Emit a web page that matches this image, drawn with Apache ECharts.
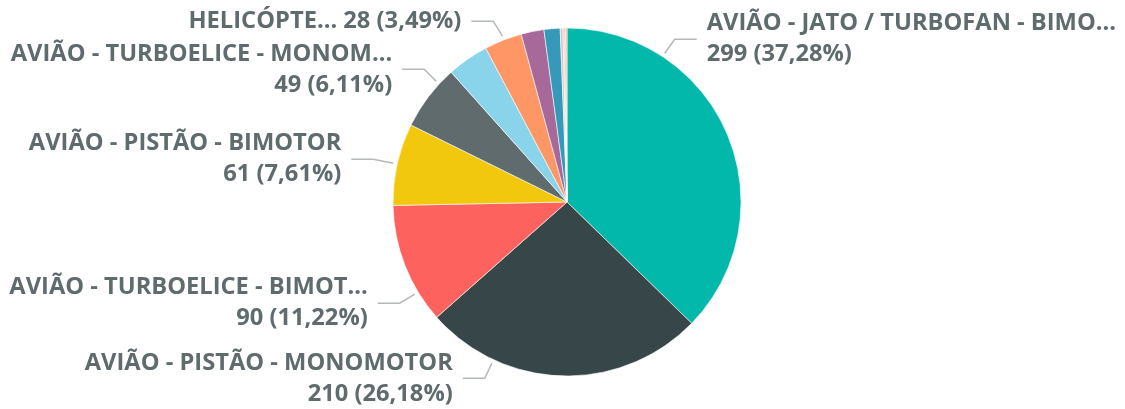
<!DOCTYPE html>
<html>
<head>
<meta charset="utf-8">
<script src="https://cdn.jsdelivr.net/npm/echarts@6/dist/echarts.min.js"></script>
<style>
  html, body { margin: 0; padding: 0; background: #fff; }
  #chart { width: 1125px; height: 409px; }
</style>
</head>
<body>
<div id="chart"></div>
<script>
// categorias (nome completo) e rótulo exibido (truncado como no original)
const categories = [
  'AVIÃO - JATO / TURBOFAN - BIMOTOR',
  'AVIÃO - PISTÃO - MONOMOTOR',
  'AVIÃO - TURBOELICE - BIMOTOR',
  'AVIÃO - PISTÃO - BIMOTOR',
  'AVIÃO - TURBOELICE - MONOMOTOR',
  'AVIÃO - JATO / TURBOFAN - MONOMOTOR',
  'HELICÓPTERO - TURBINA',
  'HELICÓPTERO - PISTÃO',
  'AVIÃO - JATO / TURBOFAN - TRIMOTOR',
  'ANFÍBIO',
  'PLANADOR',
  'ULTRALEVE',
  'BALÃO'
]
const shownNames = [
  'AVIÃO - JATO / TURBOFAN - BIMO...',
  'AVIÃO - PISTÃO - MONOMOTOR',
  'AVIÃO - TURBOELICE - BIMOT...',
  'AVIÃO - PISTÃO - BIMOTOR',
  'AVIÃO - TURBOELICE - MONOM...',
  null,
  'HELICÓPTE...',
  null, null, null, null, null, null
]
const values = [299, 210, 90, 61, 49, 31, 28, 17, 12, 2, 1, 1, 1]

const colors = ['#01B8AA', '#374649', '#FD625E', '#F2C80F', '#5F6B6D', '#8AD4EB',
  '#FE9666', '#A66999', '#3599B8', '#DFBFBF', '#C9C9C9', '#FB8281', '#FDAB89']

// posição dos rótulos (estilo Power BI): ângulo de saída, dobra da linha, lado
const labelSpots = {
  0: { angle: 33.3, bend: [10, -14], side: 1, oneLine: false },
  1: { angle: 205, bend: [-7, 15], side: -1, oneLine: false },
  2: { angle: 238.8, bend: [-15, 9], side: -1, oneLine: false },
  3: { angle: 282.6, bend: [-20, -4], side: -1, oneLine: false },
  4: { angle: 312.7, bend: [-12, -12], side: -1, oneLine: false },
  6: { angle: 338.7, bend: [-9, -15], side: -1, oneLine: true }
}

const cx = 567
const cy = 202
const r = 174
const total = values.reduce((a, b) => a + b, 0)

const chart = echarts.init(document.getElementById('chart'))

chart.setOption({
  animation: false,
  color: colors,
  series: [
    {
      type: 'pie',
      center: [cx, cy],
      radius: r,
      startAngle: 90,
      clockwise: true,
      avoidLabelOverlap: false,
      itemStyle: {
        borderColor: '#fff',
        borderWidth: 0.6
      },
      emphasis: { disabled: true },
      label: {
        show: true,
        position: 'outside',
        color: '#5F6B6D',
        fontFamily: 'Open Sans',
        fontWeight: 'bold',
        fontSize: 23.7,
        lineHeight: 31,
        formatter (p) {
          const pct = (p.value / total * 100).toFixed(2).replace('.', ',')
          const spot = labelSpots[p.dataIndex]
          const sep = spot && spot.oneLine ? ' ' : '\n'
          return shownNames[p.dataIndex] + sep + p.value + ' (' + pct + '%)'
        }
      },
      labelLine: {
        show: true,
        lineStyle: { color: '#B3B8B9', width: 1.5 }
      },
      labelLayout (params) {
        const spot = labelSpots[params.dataIndex]
        if (!spot) return {}
        const a = spot.angle * Math.PI / 180
        const sx = cx + (r + 4) * Math.sin(a)
        const sy = cy - (r + 4) * Math.cos(a)
        const bx = sx + spot.bend[0]
        const by = sy + spot.bend[1]
        const ex = bx + 22 * spot.side
        return {
          x: ex + 10 * spot.side,
          y: by,
          align: spot.side > 0 ? 'left' : 'right',
          verticalAlign: 'middle',
          labelLinePoints: [[sx, sy], [bx, by], [ex, by]]
        }
      },
      data: values.map((v, i) => ({
        name: categories[i],
        value: v,
        label: { show: !!labelSpots[i] },
        labelLine: { show: !!labelSpots[i] }
      }))
    }
  ]
})
</script>
</body>
</html>
